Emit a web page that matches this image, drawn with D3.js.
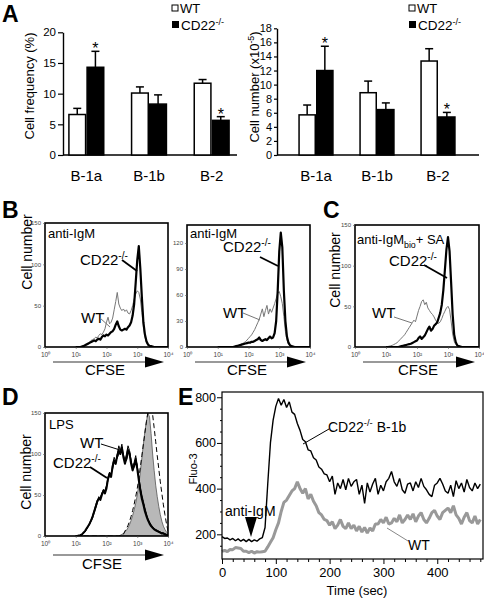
<!DOCTYPE html>
<html><head><meta charset="utf-8">
<script src="https://cdn.jsdelivr.net/npm/d3@7"></script>
<style>
body{margin:0;background:#fff}
svg{display:block;font-family:"Liberation Sans",Arial,sans-serif}
</style>
</head><body>
<svg id="c" width="484" height="600"></svg>
<script>
// ---------------- DATA ----------------
// Panel A
const groups = ["B-1a", "B-1b", "B-2"];
const freqWT = [6.6, 10.1, 11.7];
const freqWTErr = [1.0, 1.0, 0.6];
const freqCD22 = [14.3, 8.3, 5.65];
const freqCD22Err = [2.6, 1.5, 0.6];
const freqTicks = [0, 5, 10, 15, 20];
const numWT = [5.7, 8.85, 13.35];
const numWTErr = [1.4, 1.65, 1.75];
const numCD22 = [12.0, 6.45, 5.4];
const numCD22Err = [3.45, 0.95, 0.65];
const numTicks = [0, 2, 4, 6, 8, 10, 12, 14, 16, 18];
const signif = [true, false, true];

// CFSE histograms: log10 channel grid 1.0 .. 4.0 (step 0.05)
const cfseExp = d3.range(20, 81).map(i => i / 20);
const cfseTicks = [1, 10, 100, 1000, 10000];
const b1CD22 = [0,0,0,0,0.5,1,2,3,4,5, 6,7,8,7,9,10,9,12,14,13, 15,14,16,18,19,22,27,31,25,21, 20,21,22,21,24,26,30,38,52,78, 105,122,95,60,30,15,7,3,1.5,1, 0.5,0,0,0,0,0,0,0,0,0, 0];
const b1WT   = [0,0,0,0,1,2,3,4,5,6, 8,9,10,12,11,14,16,15,18,22, 30,36,28,30,35,45,55,66,52,47, 44,46,43,45,41,40,44,50,58,64, 68,66,58,42,24,12,5,2,1,0.5, 0,0,0,0,0,0,0,0,0,0, 0];
const b2CD22 = [0,0,0,0,0,0,0,0,0,0, 0,0.5,1,1.5,2,2.5,3,3.5,4,4.5, 5,5,6,6,7,8,9,11,8,7, 8,9,8,10,12,10,11,16,30,65, 110,132,115,65,30,12,5,2,1,0.5, 0,0,0,0,0,0,0,0,0,0, 0];
const b2WT   = [0,0,0,0,0,0,0,0,0,0, 0,0.5,1,1.5,2,3,4,5,6,8, 10,12,14,17,20,24,28,32,38,44, 35,42,48,38,44,40,45,50,56,62, 64,58,50,35,18,8,3,1,0.5,0, 0,0,0,0,0,0,0,0,0,0, 0];
const cCD22  = [0,0,0,0,0,0,0,0,0,0.5, 1,1.5,2,2.5,3,3.5,4,5,6,7, 8,11,13,10,12,14,18,22,25,20, 22,26,28,30,36,42,52,70,95,120, 135,118,80,40,15,6,2,1,0.5,0, 0,0,0,0,0,0,0,0,0,0, 0];
const cWT    = [0,0.5,1,1.5,2,3,4,5,7,9, 11,13,15,18,21,24,27,30,33,31, 38,45,50,56,58,52,55,48,45,42, 40,37,33,30,29,31,35,40,44,48, 50,46,32,16,7,3,1,0.5,0,0, 0,0,0,0,0,0,0,0,0,0, 0];
const dCD22  = [0,0,0.5,1,2,4,6,9,12,15, 19,24,30,36,42,46,44,50,55,52, 58,70,76,72,85,92,88,98,104,100, 108,96,88,95,105,100,88,80,86,92, 82,68,55,45,38,30,24,19,15,12, 10,8,7,6,5,4,3,3,2,1, 1];
const dWT    = [0,0,0,0.5,1,3,5,8,11,14, 18,22,28,34,40,48,46,52,57,55, 62,72,78,74,88,96,90,100,110,104, 112,98,92,100,110,104,92,84,90,98, 86,72,60,50,42,34,27,21,17,14, 11,9,8,7,6,5,4,4,3,2, 1];
const dCD22b = [0,0,0.5,1,2,3,5,8,12,16, 20,25,31,38,44,45,47,53,54,56, 60,68,74,77,82,90,92,95,100,103, 104,100,90,92,100,103,92,82,84,95, 85,70,58,47,40,32,25,20,16,13, 10,9,7,6,5,4,4,3,2,2, 1];
const dUndiv = [0,0,0,0,0,0,0,0,0,0, 0,0,0,0,0,0,0,0,0,0, 0,0,0,0,0,0,0,0,0,1, 2,3,5,7,10,14,19,25,32,40, 50,62,78,95,112,128,140,150,145,125, 100,80,62,48,36,26,18,12,8,5, 3];
const dUndivB = [0,0,0,0,0,0,0,0,0,0, 0,0,0,0,0,0,0,0,0,0, 0,0,0,0,0,0,0,0,0,0.5, 1,2,6,9,13,18,24,31,39,48, 58,70,84,98,112,126,140,152,160,158, 148,132,115,98,82,66,52,38,26,15, 6];

// Panel E: Fluo-3 over time (every 5 s, 0..480)
const eTime = d3.range(0, 481, 5);
const eCD22 = [190,182,184,176,182,172,180,170,178,168, 178,168,176,170,180,186,230,420,600,700,
  760,795,765,790,755,780,735,725,685,655, 615,605,570,565,535,525,495,485,465,460,
  430,455,375,425,400,440,395,445,410,430, 440,375,415,335,425,385,420,445,375,415,
  390,430,445,475,430,410,445,395,380,420, 425,390,430,405,445,410,395,375,365,415,
  425,445,420,390,380,415,365,435,400,425, 385,440,405,390,425,400,420];
const eWT = [125,130,124,134,133,142,140,138,126,126, 120,126,118,124,122,124,126,145,165,185,
  220,250,300,340,350,370,390,400,430,400, 380,400,355,375,345,325,295,285,265,260,
  240,255,225,240,265,235,225,250,225,240, 215,235,210,230,205,228,215,245,245,265,
  250,275,245,250,270,255,285,250,265,285, 265,290,255,280,295,265,250,270,295,305,
  280,265,295,305,315,295,325,285,270,245, 275,295,260,250,280,245,265];
const eYTicks = [200, 400, 600, 800];
const eXTicks = [0, 100, 200, 300, 400];

// ---------------- DRAWING ----------------
const svg = d3.select("#c");

function rich(g, x, y, parts, size, anchor, rotate, fill, supShift) {
  const t = g.append("text").attr("x", x).attr("y", y)
    .attr("font-size", size).attr("text-anchor", anchor || "start")
    .attr("fill", fill || "#000");
  if (rotate) t.attr("transform", `rotate(${rotate},${x},${y})`);
  let shift = 0;
  const ss = supShift || 0.42;
  parts.forEach(p => {
    const [s, k] = Array.isArray(p) ? p : [p, "n"];
    const target = k === "sup" ? -size * ss : k === "sub" ? size * 0.28 : 0;
    const ts = t.append("tspan").text(s).attr("dy", target - shift);
    if (k !== "n") ts.attr("font-size", size * 0.68);
    shift = target;
  });
  return t;
}
function letter(x, y, s) {
  svg.append("text").attr("x", x).attr("y", y).attr("font-size", 23)
    .attr("font-weight", "bold").text(s);
}
function leader(x1, y1, x2, y2, color, w) {
  svg.append("line").attr("x1", x1).attr("y1", y1).attr("x2", x2).attr("y2", y2)
    .attr("stroke", color).attr("stroke-width", w);
}

// ----- Panel A -----
function barPanel(o) {
  const g = svg.append("g");
  const x = d3.scaleBand().domain(groups).range(o.xr).paddingInner(0.42).paddingOuter(0.21);
  const sub = d3.scaleBand().domain(["WT", "CD22"]).range([0, x.bandwidth()]);
  const y = d3.scaleLinear().domain([0, o.ymax]).range([155, o.ytop]);
  const ax = g.append("g").attr("transform", `translate(${o.ax0},0)`)
    .call(d3.axisLeft(y).tickValues(o.ticks).tickSize(o.tsize).tickSizeOuter(0));
  ax.select(".domain").attr("stroke-width", 1.4);
  ax.selectAll(".tick line").attr("stroke-width", 1.2);
  ax.selectAll(".tick text").attr("font-size", o.tfont).attr("x", -o.tsize - 2);
  g.append("line").attr("x1", o.ax0).attr("x2", o.ax1).attr("y1", y(0)).attr("y2", y(0))
    .attr("stroke", "#000").attr("stroke-width", 1.4);
  const series = [
    {k: "WT", v: o.wt, e: o.wtErr, fill: "#fff"},
    {k: "CD22", v: o.cd, e: o.cdErr, fill: "#000"}
  ];
  series.forEach(s => {
    groups.forEach((gname, i) => {
      const bx = x(gname) + sub(s.k);
      const bw = sub.bandwidth();
      const cx = bx + bw / 2;
      g.append("line").attr("x1", cx).attr("x2", cx).attr("y1", y(s.v[i])).attr("y2", y(s.v[i] + s.e[i]))
        .attr("stroke", "#000").attr("stroke-width", 1.5);
      g.append("line").attr("x1", cx - 4).attr("x2", cx + 4).attr("y1", y(s.v[i] + s.e[i])).attr("y2", y(s.v[i] + s.e[i]))
        .attr("stroke", "#000").attr("stroke-width", 1.5);
      g.append("rect").attr("x", bx + 0.75).attr("y", y(s.v[i])).attr("width", bw - 1.5)
        .attr("height", y(0) - y(s.v[i])).attr("fill", s.fill).attr("stroke", "#000").attr("stroke-width", 1.5);
      if (s.k === "CD22" && signif[i]) {
        g.append("text").attr("x", cx).attr("y", y(s.v[i] + s.e[i]) + 3).attr("text-anchor", "middle")
          .attr("font-size", 16).text("*");
      }
    });
  });
  groups.forEach(gname => {
    g.append("text").attr("x", x(gname) + x.bandwidth() / 2).attr("y", 181)
      .attr("text-anchor", "middle").attr("font-size", 15).text(gname);
  });
  // legend
  g.append("rect").attr("x", o.lx).attr("y", 5).attr("width", 6).attr("height", 6)
    .attr("fill", "#fff").attr("stroke", "#000").attr("stroke-width", 1);
  g.append("text").attr("x", o.lx + 8).attr("y", 12.8).attr("font-size", 13).text("WT");
  g.append("rect").attr("x", o.lx).attr("y", 21).attr("width", 7).attr("height", 7).attr("fill", "#000");
  rich(g, o.lx + 9, 29.5, ["CD22", ["-/-", "sup"]], 13.5, "start", 0, "#000", 0.36);
  rich(g, o.ylx, o.yly, o.ylabel, 13, "middle", -90);
}
barPanel({xr: [55, 243], ax0: 63, ax1: 237, ymax: 20, ytop: 32.3, ticks: freqTicks,
  tsize: 5, tfont: 11.5,
  wt: freqWT, wtErr: freqWTErr, cd: freqCD22, cdErr: freqCD22Err, lx: 172,
  ylx: 34, yly: 86, ylabel: ["Cell frequency (%)"]});
barPanel({xr: [285.5, 468.5], ax0: 277, ax1: 479, ymax: 18, ytop: 28.3, ticks: numTicks,
  tsize: 3, tfont: 11,
  wt: numWT, wtErr: numWTErr, cd: numCD22, cdErr: numCD22Err, lx: 409,
  ylx: 259, yly: 87, ylabel: ["Cell number (x10", ["-5", "sup"], ")"]});
letter(2, 22, "A");

// ----- CFSE histogram panels -----
const supDigits = ["\u2070", "\u00b9", "\u00b2", "\u00b3", "\u2074"];
let clipId = 0;
function histPanel(o) {
  const g = svg.append("g");
  const x = d3.scaleLog().domain([1, 1e4]).range([o.x0, o.x1]);
  const y = d3.scaleLinear().domain([0, o.ymax]).range([o.y1, o.y0]);
  const id = "clip" + (clipId++);
  svg.append("clipPath").attr("id", id).append("rect")
    .attr("x", o.x0).attr("y", o.y0).attr("width", o.x1 - o.x0).attr("height", o.y1 - o.y0);
  const pg = g.append("g").attr("clip-path", `url(#${id})`);
  const pts = vals => cfseExp.map((e, i) => [Math.pow(10, e), vals[i]]);
  if (o.area) {
    pg.append("path").datum(pts(o.area))
      .attr("d", d3.area().x(d => x(d[0])).y0(y(0)).y1(d => y(d[1])))
      .attr("fill", "#b8b8b8").attr("stroke", "#555").attr("stroke-width", 0.8);
  }
  o.lines.forEach(l => {
    pg.append("path").datum(pts(l.v))
      .attr("d", d3.line().x(d => x(d[0])).y(d => y(d[1])))
      .attr("fill", "none").attr("stroke", l.c).attr("stroke-width", l.w)
      .attr("stroke-dasharray", l.dash || null).attr("stroke-linejoin", "round");
  });
  g.append("rect").attr("x", o.x0).attr("y", o.y0).attr("width", o.x1 - o.x0).attr("height", o.y1 - o.y0)
    .attr("fill", "none").attr("stroke", "#000").attr("stroke-width", 1.6);
  const ya = g.append("g").attr("transform", `translate(${o.x0},0)`)
    .call(d3.axisLeft(y).tickValues(o.yticks).tickSize(2).tickSizeOuter(0));
  ya.select(".domain").remove();
  ya.selectAll(".tick line").attr("stroke", "#555").attr("stroke-width", 0.6);
  ya.selectAll(".tick text").attr("font-size", 6).attr("fill", "#444").attr("x", -4);
  const xa = g.append("g").attr("transform", `translate(0,${o.y1})`)
    .call(d3.axisBottom(x).tickValues(cfseTicks).tickSize(2).tickSizeOuter(0)
      .tickFormat(d => "10" + supDigits[Math.round(Math.log10(d))]));
  xa.select(".domain").remove();
  xa.selectAll(".tick line").attr("stroke", "#555").attr("stroke-width", 0.6);
  xa.selectAll(".tick text").attr("font-size", 6.5).attr("fill", "#444").attr("y", 5);
  // CFSE arrow
  const ay = o.y1 + o.arrowGap;
  g.append("line").attr("x1", o.x0 + 8).attr("x2", o.x1 - 20).attr("y1", ay).attr("y2", ay)
    .attr("stroke", "#999").attr("stroke-width", 2);
  g.append("path").attr("d", `M${o.x1 - 23},${ay - 5.5} L${o.x1 - 4},${ay} L${o.x1 - 23},${ay + 5.5} Z`)
    .attr("fill", "#000");
  g.append("text").attr("x", o.cfseX).attr("y", ay + o.cfseGap).attr("text-anchor", "middle")
    .attr("font-size", 15).text("CFSE");
  if (o.ylabX > 0) rich(svg, o.ylabX, o.ylabY, ["Cell number"], 14, "middle", -90);
}

// B, plot 1
histPanel({x0: 45, x1: 168, y0: 223, y1: 347, ymax: 150, yticks: [0, 50, 100, 150],
  lines: [{v: b1WT, c: "#777", w: 1}, {v: b1CD22, c: "#000", w: 2.2}],
  arrowGap: 15, cfseGap: 13, cfseX: 105, ylabX: 32, ylabY: 252});
// B, plot 2
histPanel({x0: 187, x1: 310, y0: 225, y1: 347, ymax: 140.8, yticks: [0, 30, 60, 90, 120],
  lines: [{v: b2WT, c: "#777", w: 1}, {v: b2CD22, c: "#000", w: 2.2}],
  arrowGap: 15, cfseGap: 13, cfseX: 247, ylabX: -1, ylabY: 0});
// C
histPanel({x0: 355, x1: 479, y0: 225, y1: 347, ymax: 150, yticks: [0, 50, 100, 150],
  lines: [{v: cWT, c: "#777", w: 1}, {v: cCD22, c: "#000", w: 2.2}],
  arrowGap: 15, cfseGap: 13, cfseX: 418, ylabX: 340, ylabY: 270});
// D
histPanel({x0: 45, x1: 168, y0: 413, y1: 536, ymax: 150, yticks: [0, 50, 100, 150],
  area: dUndiv,
  lines: [{v: dUndivB, c: "#000", w: 1, dash: "5,3"},
          {v: dCD22b, c: "#000", w: 1},
          {v: dWT, c: "#000", w: 1},
          {v: dCD22, c: "#000", w: 2}],
  arrowGap: 19, cfseGap: 14, cfseX: 102, ylabX: 31, ylabY: 472});

letter(2, 218, "B");
letter(323, 218, "C");
letter(2, 405, "D");
letter(178, 405, "E");

// annotations in histogram panels
rich(svg, 48, 238, ["anti-IgM"], 13);
rich(svg, 80, 265, ["CD22", ["-/-", "sup"]], 15);
leader(122, 260, 137, 271, "#000", 1.8);
rich(svg, 81, 323, ["WT"], 15);
leader(100, 318, 110, 327, "#777", 1);

rich(svg, 190, 238, ["anti-IgM"], 13);
rich(svg, 223, 252, ["CD22", ["-/-", "sup"]], 15);
leader(260, 257, 278, 266, "#000", 1.8);
rich(svg, 223, 318, ["WT"], 15);
leader(243, 313, 260, 320, "#777", 1);

rich(svg, 357, 244, ["anti-IgM", ["bio", "sub"], "+ SA"], 13);
rich(svg, 389, 266, ["CD22", ["-/-", "sup"]], 15);
leader(424, 265, 447, 278, "#000", 1.8);
rich(svg, 372, 318, ["WT"], 15);
leader(394, 317, 412, 323, "#777", 1);

rich(svg, 49, 429, ["LPS"], 13);
rich(svg, 80, 448, ["WT"], 15);
leader(101, 444, 120, 450, "#000", 1);
rich(svg, 53, 468, ["CD22", ["-/-", "sup"]], 15);
leader(90, 467, 107, 478, "#000", 1.8);

// ----- Panel E -----
(function () {
  const g = svg.append("g");
  const x = d3.scaleLinear().domain([0, 485]).range([222, 483]);
  const y = d3.scaleLinear().domain([92, 823]).range([559, 392]);
  const line = d3.line().x(d => x(d[0])).y(d => y(d[1]));
  g.append("path").datum(eTime.map((t, i) => [t, eWT[i]])).attr("d", line)
    .attr("fill", "none").attr("stroke", "#999").attr("stroke-width", 3).attr("stroke-linejoin", "bevel");
  g.append("path").datum(eTime.map((t, i) => [t, eCD22[i]])).attr("d", line)
    .attr("fill", "none").attr("stroke", "#000").attr("stroke-width", 1.4).attr("stroke-linejoin", "bevel");
  g.append("rect").attr("x", 222).attr("y", 392).attr("width", 261).attr("height", 167)
    .attr("fill", "none").attr("stroke", "#000").attr("stroke-width", 1.2);
  const ya = g.append("g").attr("transform", "translate(222,0)")
    .call(d3.axisLeft(y).tickValues(eYTicks).tickSize(5).tickSizeOuter(0));
  ya.select(".domain").remove();
  ya.selectAll(".tick text").attr("font-size", 12.5).attr("x", -6);
  g.append("g").attr("transform", "translate(222,0)")
    .call(d3.axisLeft(y).tickValues(d3.range(150, 823, 50).filter(v => v % 200 !== 0)).tickSize(2).tickFormat(""))
    .call(s => s.select(".domain").remove());
  const xa = g.append("g").attr("transform", "translate(0,559)")
    .call(d3.axisBottom(x).tickValues(eXTicks).tickSize(5).tickSizeOuter(0));
  xa.select(".domain").remove();
  xa.selectAll(".tick text").attr("font-size", 13).attr("y", 9);
  g.append("g").attr("transform", "translate(0,559)")
    .call(d3.axisBottom(x).tickValues(d3.range(20, 481, 20).filter(v => v % 100 !== 0)).tickSize(3).tickFormat(""))
    .call(s => s.select(".domain").remove());
  g.append("text").attr("x", 357).attr("y", 595).attr("text-anchor", "middle").attr("font-size", 13).text("Time (sec)");
  rich(g, 197, 469, ["Fluo-3"], 11, "middle", -90);
  rich(g, 225, 516, ["anti-IgM"], 14);
  g.append("path").attr("d", "M245,517 L257,517 L251,537 Z").attr("fill", "#000");
  rich(g, 328, 432, ["CD22", ["-/-", "sup"], " B-1b"], 14);
  g.append("line").attr("x1", 329).attr("y1", 429).attr("x2", 303).attr("y2", 444).attr("stroke", "#000").attr("stroke-width", 1);
  rich(g, 408, 550, ["WT"], 14);
  g.append("line").attr("x1", 408).attr("y1", 541).attr("x2", 387).attr("y2", 528).attr("stroke", "#888").attr("stroke-width", 1);
})();
</script>
</body></html>
